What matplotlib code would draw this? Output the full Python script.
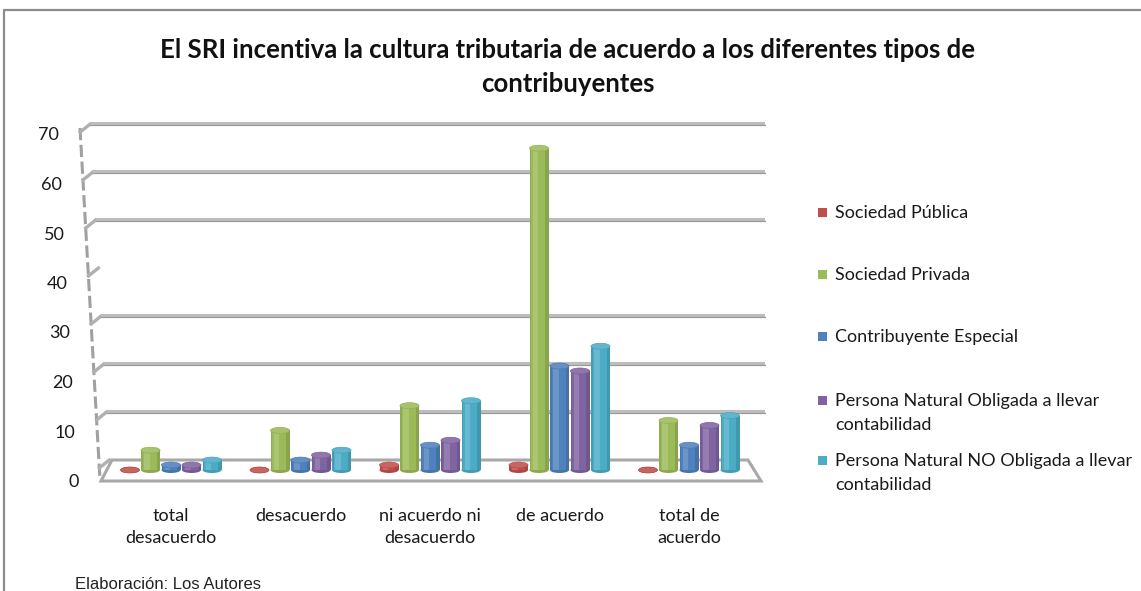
import matplotlib
matplotlib.use("Agg")
import matplotlib.pyplot as plt
import matplotlib.transforms as mtransforms
from matplotlib.patches import Rectangle, Ellipse, Polygon
import matplotlib.colors as mcolors

# ---------------- data ----------------
categories = ["total\ndesacuerdo", "desacuerdo", "ni acuerdo ni\ndesacuerdo",
              "de acuerdo", "total de\nacuerdo"]
series_names = ["Sociedad Pública", "Sociedad Privada", "Contribuyente Especial",
                "Persona Natural Obligada a llevar\ncontabilidad",
                "Persona Natural NO Obligada a llevar\ncontabilidad"]
sociedad_publica = [0, 0, 1, 1, 0]
sociedad_privada = [4, 8, 13, 65, 10]
contribuyente_especial = [1, 2, 5, 21, 5]
pn_obligada = [1, 3, 6, 20, 9]
pn_no_obligada = [2, 4, 14, 25, 11]
y_ticks = [0, 10, 20, 30, 40, 50, 60, 70]
title = "El SRI incentiva la cultura tributaria de acuerdo a los diferentes tipos de\ncontribuyentes"
source = "Elaboración: Los Autores"

series = [sociedad_publica, sociedad_privada, contribuyente_especial, pn_obligada, pn_no_obligada]
colors = ["#C0504D", "#9BBB59", "#4F81BD", "#8064A2", "#4BACC6"]

# ---------------- figure ----------------
W, H = 1141, 591
fig = plt.figure(figsize=(W / 100, H / 100), dpi=100)
fig.patch.set_facecolor("white")
CAL = ["Lato", "DejaVu Sans"]
TXT = "#1a1a1a"

def fx(px):
    return px / W

def fy(py):
    return 1 - py / H

# background axes in pixel coordinates (decorations)
bg = fig.add_axes([0, 0, 1, 1], zorder=0)
bg.set_xlim(0, W)
bg.set_ylim(H, 0)
bg.axis("off")

# chart border
bg.plot([4, 4, W + 5], [H + 5, 10, 10], color="#8c8c8c", lw=1.6, solid_capstyle="butt")

# back wall geometry (pixels)
wall_top, wall_bot = (80, 128), (100, 480)

def wall_x(py):
    return wall_top[0] + (py - wall_top[1]) * (wall_bot[0] - wall_top[0]) / (wall_bot[1] - wall_top[1])

bg.plot([wall_top[0], wall_bot[0]], [wall_top[1], wall_bot[1]], color="#a0a0a0",
        lw=2.2, ls=(0, (4, 1.5)))

back0, back_step = 460, 4.8
for v in y_ticks:
    py = back0 - back_step * v
    xw = wall_x(py + 8)
    bg.plot([xw, xw + 10], [py + 8, py], color="#b0b0b0", lw=2.4)
    if v in (0, 40):
        continue
    bg.plot([xw + 10, 765], [py, py], color="#bdbdbd", lw=3.0, solid_capstyle="butt")
    bg.plot([xw + 10, 765], [py + 1.3, py + 1.3], color="#9a9a9a", lw=0.8)

# floor
floor = Polygon([(112, 460), (748, 460), (761, 481), (101, 481)], closed=True,
                facecolor="white", edgecolor="#a8a8a8", lw=2.2, zorder=1)
bg.add_patch(floor)

# ---------------- bars ----------------
px_left, px_right, px_top, px_bottom = 60, 780, 100, 495
ax = fig.add_axes([fx(px_left), fy(px_bottom), (px_right - px_left) / W,
                   (px_bottom - px_top) / H], zorder=2)
ax.patch.set_alpha(0)
x0, dx_group = 171, 129.5
ax.set_xlim((px_left - x0) / dx_group, (px_right - x0) / dx_group)
base_py, unit = 470, 4.95
ax.set_ylim((base_py - px_bottom) / unit, (base_py - px_top) / unit)
ax.axis("off")

bar_step = 20.5 / dx_group
bar_w = 19.0 / dx_group
ell_h = 6.0 / unit


def lighten(c, f):
    r, g, b = mcolors.to_rgb(c)
    return (r + (1 - r) * f, g + (1 - g) * f, b + (1 - b) * f)


def darken(c, f):
    r, g, b = mcolors.to_rgb(c)
    return (r * (1 - f), g * (1 - f), b * (1 - f))


for j, (vals, col) in enumerate(zip(series, colors)):
    for i, v in enumerate(vals):
        x = i + (j - 2) * bar_step
        ax.add_patch(Ellipse((x, 0), bar_w, ell_h, facecolor=darken(col, 0.1), edgecolor="none", zorder=3))
        if v > 0:
            ax.add_patch(Rectangle((x - bar_w / 2, 0), bar_w, v, facecolor=col, edgecolor="none", zorder=3))
            ax.add_patch(Rectangle((x - bar_w / 2 + bar_w * 0.18, 0), bar_w * 0.28, v,
                                   facecolor="white", alpha=0.16, edgecolor="none", zorder=3.1))
            ax.add_patch(Rectangle((x + bar_w / 2 - bar_w * 0.18, 0), bar_w * 0.18, v,
                                   facecolor="black", alpha=0.12, edgecolor="none", zorder=3.1))
            ax.add_patch(Rectangle((x - bar_w / 2, 0), bar_w * 0.08, v,
                                   facecolor="black", alpha=0.08, edgecolor="none", zorder=3.1))
        ax.add_patch(Ellipse((x, v), bar_w, ell_h, facecolor=lighten(col, 0.12),
                             edgecolor=darken(col, 0.05), lw=0.5, zorder=3.2))

# category labels
tr_cat = mtransforms.blended_transform_factory(ax.transData, bg.transData)
for i, lab in enumerate(categories):
    ax.text(i, 508, lab, transform=tr_cat, ha="center", va="top", fontsize=13,
            family=CAL, color=TXT, linespacing=1.45)

# y tick labels (slanted along the wall)
tr_y = mtransforms.blended_transform_factory(bg.transData, ax.transData) + \
    mtransforms.ScaledTranslation(0, -12 / 100, fig.dpi_scale_trans)
for v in y_ticks:
    py = base_py - unit * v
    ax.text(wall_x(py) - 21, v, str(v), transform=tr_y, ha="right", va="center",
            fontsize=13, family=CAL, color=TXT)

# legend (entries placed as in the original layout)
legend_first_line_y = [212, 274, 336, 400, 460]
for name, col, ly in zip(series_names, colors, legend_first_line_y):
    bg.add_patch(Rectangle((818, ly - 4.5), 9, 9, facecolor=col, edgecolor="none"))
    bg.text(835, ly - 7, name, ha="left", va="top", fontsize=13, family=CAL,
            color=TXT, linespacing=1.65)

# title
fig.text(fx(568), fy(67), title, ha="center", va="center", fontsize=18.5,
         fontweight="bold", family=CAL, linespacing=1.55, color="#111111")

# source note
fig.text(fx(75), fy(589), source, ha="left", va="baseline", fontsize=12,
         family=["Liberation Sans", "DejaVu Sans"], color="#222222")

fig.savefig("out.png", dpi=100)
